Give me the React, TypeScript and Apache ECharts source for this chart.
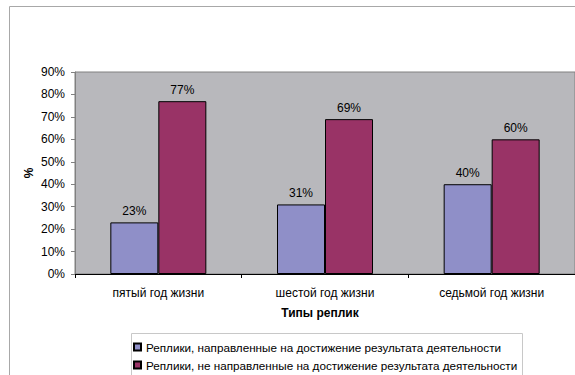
import React, { useEffect, useRef } from "react";
import * as echarts from "echarts";

const categories = ["пятый год жизни", "шестой год жизни", "седьмой год жизни"];
const seriesNames = [
  "Реплики, направленные на достижение результата деятельности",
  "Реплики, не направленные на достижение результата деятельности",
];
const directed = [0.23, 0.31, 0.4];
const notDirected = [0.77, 0.69, 0.6];
const yTicks = { min: 0, max: 0.9, interval: 0.1 };

const FONT = "'Liberation Sans', Arial, sans-serif";

export default function App() {
  const ref = useRef<HTMLDivElement>(null);
  useEffect(() => {
    document.body.style.margin = "0";
    const chart = echarts.init(ref.current!, null, { renderer: "svg" });
    const pct = (v: number) => Math.round(v * 100) + "%";
    const label = {
      show: true,
      position: "top",
      distance: 5,
      color: "#000",
      fontFamily: FONT,
      fontSize: 12,
      formatter: (p: any) => pct(p.value),
    };
    chart.setOption({
      animation: false,
      backgroundColor: "#fff",
      textStyle: { fontFamily: FONT },
      grid: {
        left: 75,
        top: 72,
        width: 507,
        height: 202,
        show: true,
        backgroundColor: "#B8B8BC",
        borderColor: "#808080",
        borderWidth: 1,
      },
      graphic: [
        {
          type: "rect",
          shape: { x: 9.5, y: 6.5, width: 620, height: 420 },
          style: { fill: "none", stroke: "#A8A8A8", lineWidth: 1 },
          z: -10,
        },
        {
          type: "rect",
          shape: { x: 131.5, y: 333.5, width: 391, height: 60 },
          style: { fill: "#fff", stroke: "#C8C8C8", lineWidth: 1 },
          z: 0,
        },
      ],
      legend: {
        orient: "vertical",
        left: 133,
        top: 341,
        padding: 0,
        itemWidth: 7,
        itemHeight: 7,
        itemGap: 6,
        icon: "rect",
        z: 10,
        textStyle: { fontFamily: FONT, fontSize: 11.7, color: "#000", padding: [0, 0, 0, 0] },
        data: seriesNames,
      },
      xAxis: {
        type: "category",
        data: categories,
        name: "Типы реплик",
        nameLocation: "middle",
        nameGap: 33,
        nameTextStyle: {
          fontFamily: FONT,
          fontSize: 12,
          fontWeight: "bold",
          color: "#000",
          padding: [0, 10, 0, 0],
        },
        axisLine: { show: true, lineStyle: { color: "#000", width: 1 } },
        axisTick: { show: true, length: 4, lineStyle: { color: "#000" } },
        axisLabel: { margin: 13, fontFamily: FONT, fontSize: 12, color: "#000" },
        splitLine: { show: false },
      },
      yAxis: {
        type: "value",
        min: yTicks.min,
        max: yTicks.max,
        interval: yTicks.interval,
        name: "%",
        nameLocation: "middle",
        nameRotate: 90,
        nameGap: 40,
        nameMoveOverlap: false,
        nameTextStyle: { fontFamily: FONT, fontSize: 12, fontWeight: "bold", color: "#000" },
        axisLine: { show: true, lineStyle: { color: "#808080", width: 1 } },
        axisTick: { show: true, length: 4, lineStyle: { color: "#808080" } },
        axisLabel: {
          margin: 10,
          fontFamily: FONT,
          fontSize: 12,
          color: "#000",
          formatter: (v: number) => pct(v),
        },
        splitLine: { show: false },
      },
      series: [
        {
          name: seriesNames[0],
          type: "bar",
          data: directed,
          barWidth: 48,
          barGap: "0%",
          itemStyle: { color: "#8F8FC8", borderColor: "#000", borderWidth: 1 },
          label,
        },
        {
          name: seriesNames[1],
          type: "bar",
          data: notDirected,
          barWidth: 48,
          barGap: "0%",
          itemStyle: { color: "#993366", borderColor: "#000", borderWidth: 1 },
          label,
        },
      ],
    });
    return () => chart.dispose();
  }, []);
  return (
    <div
      ref={ref}
      style={{ position: "absolute", left: 0, top: 0, width: 575, height: 375 }}
    />
  );
}
